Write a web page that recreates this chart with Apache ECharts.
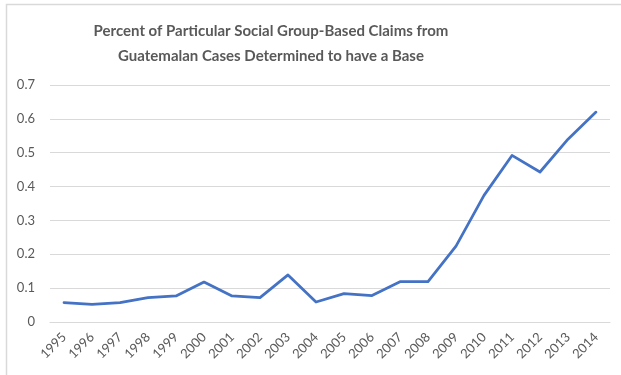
<!DOCTYPE html>
<html>
<head>
<meta charset="utf-8">
<script src="https://cdn.jsdelivr.net/npm/echarts@6/dist/echarts.min.js"></script>
<style>
  html, body { margin: 0; padding: 0; background: #fff; }
  #chart { width: 621px; height: 375px; }
</style>
</head>
<body>
<div id="chart"></div>
<script>
// Years of decision
const years = ['1995','1996','1997','1998','1999','2000','2001','2002','2003','2004',
               '2005','2006','2007','2008','2009','2010','2011','2012','2013','2014'];
// Share of particular-social-group claims found to have a basis
const shareWithBase = [0.057, 0.052, 0.057, 0.072, 0.077, 0.118, 0.077, 0.072, 0.139, 0.059,
                       0.084, 0.078, 0.119, 0.119, 0.224, 0.374, 0.492, 0.443, 0.54, 0.62];
// Value axis ticks
const yTicks = { min: 0, max: 0.7, interval: 0.1 };

const chart = echarts.init(document.getElementById('chart'), null, { renderer: 'canvas' });
const grey = '#595959';
const font = 'Lato, "Open Sans", sans-serif';

chart.setOption({
  animation: false,
  backgroundColor: '#ffffff',
  graphic: [{
    type: 'rect',
    shape: { x: 6.5, y: 4.5, width: 700, height: 500 },
    style: { fill: 'none', stroke: '#d9d9d9', lineWidth: 1.5 },
    silent: true
  }],
  title: {
    text: 'Percent of Particular Social Group-Based Claims from\nGuatemalan Cases Determined to have a Base',
    left: 266,
    top: 14,
    textAlign: 'center',
    textStyle: {
      fontFamily: font,
      fontSize: 15,
      fontWeight: 'bold',
      color: grey,
      lineHeight: 25
    }
  },
  grid: { left: 50, right: 11, top: 85, bottom: 53, containLabel: false },
  xAxis: {
    type: 'category',
    data: years,
    boundaryGap: true,
    axisLine: { show: true, lineStyle: { color: '#d9d9d9', width: 1 } },
    axisTick: { show: false },
    axisLabel: {
      rotate: 45,
      interval: 0,
      margin: 13,
      color: grey,
      fontFamily: font,
      fontSize: 13
    }
  },
  yAxis: {
    type: 'value',
    min: yTicks.min,
    max: yTicks.max,
    interval: yTicks.interval,
    axisLine: { show: false },
    axisTick: { show: false },
    splitLine: { lineStyle: { color: '#d9d9d9', width: 1 } },
    axisLabel: {
      margin: 15,
      color: grey,
      fontFamily: font,
      fontSize: 13,
      formatter: v => (Math.round(v * 10) / 10).toString()
    }
  },
  series: [{
    type: 'line',
    data: shareWithBase,
    showSymbol: false,
    symbol: 'none',
    lineStyle: { color: '#4472C4', width: 2.75, join: 'round', cap: 'round' },
    itemStyle: { color: '#4472C4' }
  }]
});
</script>
</body>
</html>
